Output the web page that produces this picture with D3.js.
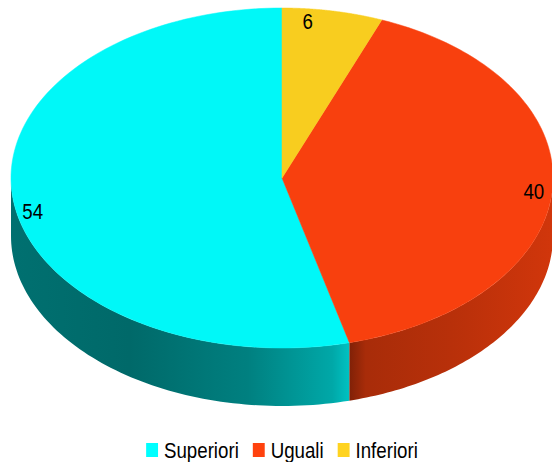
<!DOCTYPE html>
<html>
<head>
<meta charset="utf-8">
<script src="https://cdn.jsdelivr.net/npm/d3@7"></script>
<style>
  html, body { margin: 0; padding: 0; background: #fff; }
  svg { display: block; }
</style>
</head>
<body>
<div id="chart"></div>
<script>
// data
const categories = ['Superiori', 'Uguali', 'Inferiori'];
const values = [54, 40, 6];
const colors = ['#00FFFF', '#FF420E', '#FFD320'];

// layout
const W = 552, H = 462;
const cx = 282, cy = 178, rx = 271, ry = 170, depth = 58;
const FONT = "'Liberation Sans', Arial, sans-serif";
const SQUEEZE = 0.85; // horizontal text squeeze of the original picture
const labelNudge = [[-2, 13], [3, 3], [-21, -3]];

const svg = d3.select('#chart').append('svg')
  .attr('width', W).attr('height', H);
const defs = svg.append('defs');

const pie = d3.pie().sort(null).startAngle(0).endAngle(-2 * Math.PI);
const arcs = pie(values);

// angle a measured clockwise from 12 o'clock
const px = a => cx + rx * Math.sin(a);
const py = (a, dz = 0) => cy - ry * Math.cos(a) + dz;
const norm = a => ((a % (2 * Math.PI)) + 2 * Math.PI) % (2 * Math.PI);

const line = d3.line().x(d => d[0]).y(d => d[1]);
const samples = (a0, a1, n = 80) => d3.range(n + 1).map(i => a0 + (a1 - a0) * i / n);

// side shading, brightness factor along the visible width of each wall
const sideStops = [
  [[0, 0.44], [0.35, 0.41], [0.7, 0.5], [0.95, 0.66], [1, 0.76]],
  [[0, 0.5], [0.08, 0.66], [0.5, 0.72], [1, 0.82]],
  [[0, 0.6], [1, 0.8]]
];

// side walls (front half only: pi/2 .. 3pi/2)
arcs.forEach((d, i) => {
  const lo = norm(Math.min(d.startAngle, d.endAngle));
  const hi = lo + Math.abs(d.endAngle - d.startAngle);
  const s0 = Math.max(lo, Math.PI / 2);
  const s1 = Math.min(hi, 3 * Math.PI / 2);
  if (s1 <= s0) return;

  const xs = samples(s0, s1).map(px);
  const grad = defs.append('linearGradient')
    .attr('id', 'side' + i)
    .attr('gradientUnits', 'userSpaceOnUse')
    .attr('x1', d3.min(xs)).attr('x2', d3.max(xs)).attr('y1', 0).attr('y2', 0);
  const base = d3.rgb(colors[i]);
  sideStops[i].forEach(([o, k]) => {
    grad.append('stop')
      .attr('offset', o)
      .attr('stop-color', d3.rgb(base.r * k, base.g * k, base.b * k).formatHex());
  });

  const top = samples(s0, s1).map(a => [px(a), py(a)]);
  const bot = samples(s1, s0).map(a => [px(a), py(a, depth)]);
  svg.append('path')
    .attr('d', line(top.concat(bot)) + 'Z')
    .attr('fill', `url(#side${i})`);
});

// top faces
arcs.forEach((d, i) => {
  const pts = [[cx, cy]].concat(samples(d.startAngle, d.endAngle, 120).map(a => [px(a), py(a)]));
  svg.append('path')
    .attr('d', line(pts) + 'Z')
    .attr('fill', d3.color(colors[i]).darker(0.08))
    .attr('stroke', d3.color(colors[i]).darker(0.08))
    .attr('stroke-width', 0.5);
});

// value labels
arcs.forEach((d, i) => {
  const mid = (d.startAngle + d.endAngle) / 2;
  const lx = cx + rx * 0.92 * Math.sin(mid) + labelNudge[i][0];
  const ly = cy - ry * 0.92 * Math.cos(mid) + labelNudge[i][1];
  svg.append('g')
    .attr('transform', `translate(${lx},${ly}) scale(${SQUEEZE},1)`)
    .append('text')
    .attr('text-anchor', 'middle')
    .attr('dy', '0.36em')
    .style('font-family', FONT)
    .style('font-size', '22px')
    .style('fill', '#000')
    .text(values[i]);
});

// legend
const legend = svg.append('g')
  .attr('transform', `translate(${cx},443) scale(${SQUEEZE},1)`);
const sq = 14, gapIn = 7, gapOut = 16.5;
let off = 0;
const items = categories.map((c, i) => {
  const g = legend.append('g');
  g.append('rect').attr('x', 0).attr('y', 0).attr('width', sq).attr('height', sq)
    .attr('fill', colors[i]);
  const t = g.append('text')
    .attr('x', sq + gapIn).attr('y', 15)
    .style('font-family', FONT)
    .style('font-size', '22px')
    .style('fill', '#000')
    .text(c);
  const w = sq + gapIn + t.node().getComputedTextLength();
  const item = { g, x: off };
  off += w + gapOut;
  return item;
});
const total = off - gapOut;
items.forEach(it => it.g.attr('transform', `translate(${it.x - total / 2},0)`));
</script>
</body>
</html>
